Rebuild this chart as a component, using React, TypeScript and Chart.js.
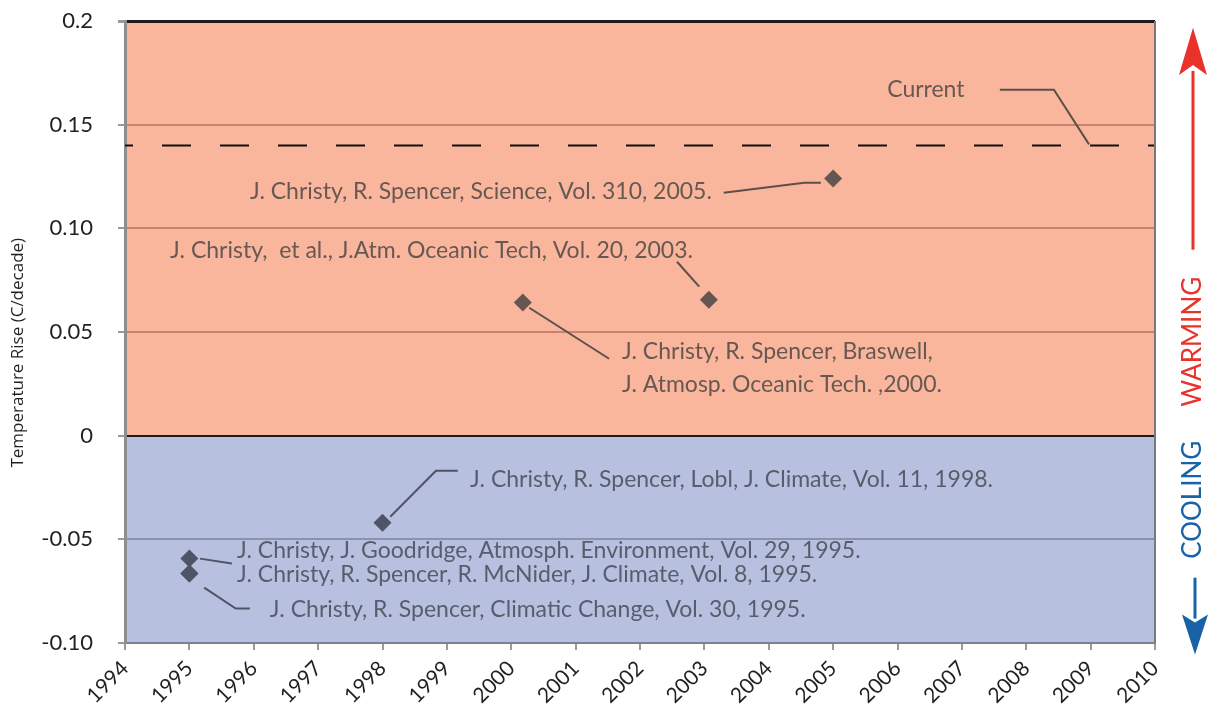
import React, { useEffect, useRef } from "react";
import { Chart, registerables } from "chart.js";

Chart.register(...registerables);

// ---- data ----
const studyYears = [1995, 1995, 1995, 1998, 2000.18, 2003.07, 2005.0];
const studyRates = [-0.0593, -0.0665, -0.0665, -0.042, 0.0642, 0.0656, 0.124];
const currentRate = 0.14;
const xMinYear = 1994;
const xMaxYear = 2010;
const yTickValues = [-0.1, -0.05, 0, 0.05, 0.1, 0.15, 0.2];
const yTickLabels = ["-0.10", "-0.05", "0", "0.05", "0.10", "0.15", "0.2"];
const yAxisTitle = "Temperature Rise (C/decade)";

// citation annotations in data units (x: year, y: rate)
const citations = [
  { lines: [{ t: "Current", y: 0.1669 }], x: 2005.84, leader: [[2007.59, 0.1669], [2008.43, 0.1669], [2008.975, 0.1405]] },
  { lines: [{ t: "J. Christy, R. Spencer, Science, Vol. 310, 2005.", y: 0.1177 }], x: 1995.94, leader: [[2003.3, 0.1172], [2004.55, 0.122], [2004.81, 0.122]] },
  { lines: [{ t: "J. Christy,  et al., J.Atm. Oceanic Tech, Vol. 20, 2003.", y: 0.0892 }], x: 1994.7, leader: [[2002.575, 0.0839], [2002.92, 0.0719]] },
  { lines: [{ t: "J. Christy, R. Spencer, Braswell,", y: 0.0405 }, { t: "J. Atmosp. Oceanic Tech. ,2000.", y: 0.0246 }], x: 2001.72, leader: [[2000.28, 0.0617], [2001.52, 0.0371]] },
  { lines: [{ t: "J. Christy, R. Spencer, Lobl, J. Climate, Vol. 11, 1998.", y: -0.0212 }], x: 1999.36, leader: [[1998.12, -0.0391], [1998.83, -0.0169], [1999.17, -0.0169]] },
  { lines: [{ t: "J. Christy, J. Goodridge, Atmosph. Environment, Vol. 29, 1995.", y: -0.0555 }], x: 1995.74, leader: [[1995.165, -0.0593], [1995.66, -0.0617]] },
  { lines: [{ t: "J. Christy, R. Spencer, R. McNider, J. Climate, Vol. 8, 1995.", y: -0.067 }], x: 1995.74, leader: [] },
  { lines: [{ t: "J. Christy, R. Spencer, Climatic Change, Vol. 30, 1995.", y: -0.0839 }], x: 1996.25, leader: [[1995.23, -0.0733], [1995.72, -0.0834], [1995.94, -0.0834]] },
];

const WARM_BG = "#F9B69D";
const COOL_BG = "#B8C0DF";
const WARM_INK = "#675851";
const COOL_INK = "#585d6d";
const TEXT_FONT = "Lato, 'Open Sans', sans-serif";

const decorPlugin = {
  id: "decor",
  beforeDraw(chart: any) {
    const { ctx, chartArea } = chart;
    const y = chart.scales.y;
    const zero = y.getPixelForValue(0);
    ctx.save();
    ctx.fillStyle = "#ffffff";
    ctx.fillRect(0, 0, chart.width, chart.height);
    ctx.fillStyle = WARM_BG;
    ctx.fillRect(chartArea.left, chartArea.top, chartArea.right - chartArea.left, zero - chartArea.top);
    ctx.fillStyle = COOL_BG;
    ctx.fillRect(chartArea.left, zero, chartArea.right - chartArea.left, chartArea.bottom - zero);
    ctx.restore();
  },
  afterDatasetsDraw(chart: any) {
    const { ctx, chartArea } = chart;
    const xs = chart.scales.x;
    const ys = chart.scales.y;
    ctx.save();
    // right border
    ctx.strokeStyle = "#78787e";
    ctx.lineWidth = 2;
    ctx.beginPath();
    ctx.moveTo(chartArea.right, chartArea.top);
    ctx.lineTo(chartArea.right, chartArea.bottom);
    ctx.stroke();

    // citations
    ctx.font = `23px ${TEXT_FONT}`;
    ctx.textBaseline = "middle";
    ctx.textAlign = "left";
    for (const c of citations) {
      const warm = c.lines[0].y >= 0;
      ctx.fillStyle = warm ? WARM_INK : COOL_INK;
      for (const ln of c.lines) {
        ctx.fillText(ln.t, xs.getPixelForValue(c.x), ys.getPixelForValue(ln.y));
      }
      if (c.leader.length) {
        ctx.strokeStyle = warm ? "#5d4f49" : "#4f5464";
        ctx.lineWidth = 2;
        ctx.beginPath();
        c.leader.forEach((p: number[], i: number) => {
          const px = xs.getPixelForValue(p[0]);
          const py = ys.getPixelForValue(p[1]);
          if (i === 0) ctx.moveTo(px, py);
          else ctx.lineTo(px, py);
        });
        ctx.stroke();
      }
    }
    ctx.restore();
  },
  afterDraw(chart: any) {
    const { ctx, chartArea } = chart;
    const ys = chart.scales.y;
    const cx = chartArea.right + 38;
    ctx.save();
    // y-axis title
    ctx.fillStyle = "#231f20";
    ctx.font = `17px 'Open Sans', sans-serif`;
    ctx.textAlign = "center";
    ctx.textBaseline = "middle";
    ctx.translate(18, ys.getPixelForValue(0.04));
    ctx.rotate(-Math.PI / 2);
    ctx.fillText(yAxisTitle, 0, 0);
    ctx.restore();

    ctx.save();
    // red warming arrow
    const red = "#E8322A";
    const blue = "#1763A6";
    const tip = ys.getPixelForValue(0.1968);
    const headBase = ys.getPixelForValue(0.174);
    const shaftEnd = ys.getPixelForValue(0.0897);
    ctx.strokeStyle = red;
    ctx.fillStyle = red;
    ctx.lineWidth = 3;
    ctx.beginPath();
    ctx.moveTo(cx, headBase - 4);
    ctx.lineTo(cx, shaftEnd);
    ctx.stroke();
    ctx.beginPath();
    ctx.moveTo(cx, tip);
    ctx.lineTo(cx + 14, headBase);
    ctx.lineTo(cx, headBase - 10);
    ctx.lineTo(cx - 14, headBase);
    ctx.closePath();
    ctx.fill();

    // blue cooling arrow
    const btop = ys.getPixelForValue(-0.0685);
    const bBase = ys.getPixelForValue(-0.0863);
    const bTip = ys.getPixelForValue(-0.1056);
    ctx.strokeStyle = blue;
    ctx.fillStyle = blue;
    ctx.beginPath();
    ctx.moveTo(cx + 2, btop);
    ctx.lineTo(cx + 2, bBase + 4);
    ctx.stroke();
    ctx.beginPath();
    ctx.moveTo(cx + 2, bTip);
    ctx.lineTo(cx + 15, bBase);
    ctx.lineTo(cx + 2, bBase + 8);
    ctx.lineTo(cx - 11, bBase);
    ctx.closePath();
    ctx.fill();

    // labels
    ctx.font = `26px ${TEXT_FONT}`;
    ctx.textAlign = "center";
    ctx.textBaseline = "middle";
    ctx.save();
    ctx.translate(cx, ys.getPixelForValue(0.0453));
    ctx.rotate(-Math.PI / 2);
    ctx.fillStyle = red;
    ctx.fillText("WARMING", 0, 0);
    ctx.restore();
    ctx.save();
    ctx.translate(cx, ys.getPixelForValue(-0.0309));
    ctx.rotate(-Math.PI / 2);
    ctx.fillStyle = blue;
    ctx.fillText("COOLING", 0, 0);
    ctx.restore();
    ctx.restore();
  },
};

function gridColor(v: number) {
  if (Math.abs(v - 0.2) < 1e-6) return "#1c1c1c";
  if (Math.abs(v) < 1e-6) return "#1c1c1c";
  if (Math.abs(v + 0.1) < 1e-6) return "#7d8290";
  return v > 0 ? "#C4846F" : "#8A92AD";
}

export default function App() {
  const ref = useRef<HTMLCanvasElement | null>(null);
  useEffect(() => {
    if (!ref.current) return;
    const points = studyYears.map((x, i) => ({ x, y: studyRates[i] }));
    const chart = new Chart(ref.current, {
      type: "scatter",
      data: {
        datasets: [
          {
            type: "line" as any,
            data: [
              { x: xMinYear, y: currentRate },
              { x: xMaxYear, y: currentRate },
            ],
            borderColor: "#111111",
            borderWidth: 2,
            borderDash: [29, 29],
            borderDashOffset: 21,
            pointRadius: 0,
            fill: false,
          } as any,
          {
            data: points,
            pointStyle: "rectRot",
            pointRadius: 9,
            pointHoverRadius: 9,
            borderWidth: 0,
            backgroundColor: (c: any) => (c.raw && c.raw.y >= 0 ? "#655650" : "#4e5466"),
          } as any,
        ],
      },
      options: {
        animation: false,
        responsive: true,
        maintainAspectRatio: false,
        events: [],
        layout: { padding: { top: 21, right: 56, left: 0, bottom: 0 } },
        plugins: { legend: { display: false }, tooltip: { enabled: false } },
        scales: {
          x: {
            type: "linear",
            min: xMinYear,
            max: xMaxYear,
            afterFit: (s: any) => {
              s.height = 61;
              s.paddingLeft = 0;
              s.paddingRight = 0;
            },
            afterBuildTicks: (s: any) => {
              const t = [];
              for (let yr = xMinYear; yr <= xMaxYear; yr++) t.push({ value: yr });
              s.ticks = t;
            },
            grid: {
              drawOnChartArea: false,
              drawTicks: true,
              tickLength: 7,
              tickColor: "#9a9a9a",
              lineWidth: 2,
            },
            border: { display: true, color: "#7d8290", width: 2 },
            ticks: {
              minRotation: 45,
              maxRotation: 45,
              padding: 6,
              color: "#231f20",
              font: { family: TEXT_FONT, size: 21 },
              callback: (v: any) => String(v),
            },
          },
          y: {
            type: "linear",
            min: -0.1,
            max: 0.2,
            afterFit: (s: any) => {
              s.width = 125;
              s.paddingTop = 0;
              s.paddingBottom = 0;
            },
            afterBuildTicks: (s: any) => {
              s.ticks = yTickValues.map((v) => ({ value: v }));
            },
            grid: {
              color: (c: any) => gridColor(c.tick ? c.tick.value : 0),
              lineWidth: (c: any) => {
                const v = c.tick ? c.tick.value : 0;
                if (Math.abs(v - 0.2) < 1e-6) return 3;
                return 2;
              },
              drawTicks: true,
              tickLength: 7,
              tickColor: "#9a9a9a",
            },
            border: { display: true, color: "#8e8e8e", width: 3 },
            ticks: {
              padding: 25,
              color: "#231f20",
              font: { family: TEXT_FONT, size: 22 },
              callback: (v: any) => {
                const i = yTickValues.findIndex((t) => Math.abs(t - v) < 1e-6);
                return i >= 0 ? yTickLabels[i] : "";
              },
            },
          },
        },
      },
      plugins: [decorPlugin],
    } as any);
    return () => chart.destroy();
  }, []);

  return (
    <div style={{ position: "fixed", left: 0, top: 0, width: 1211, height: 704, background: "#fff" }}>
      <canvas ref={ref} />
    </div>
  );
}
